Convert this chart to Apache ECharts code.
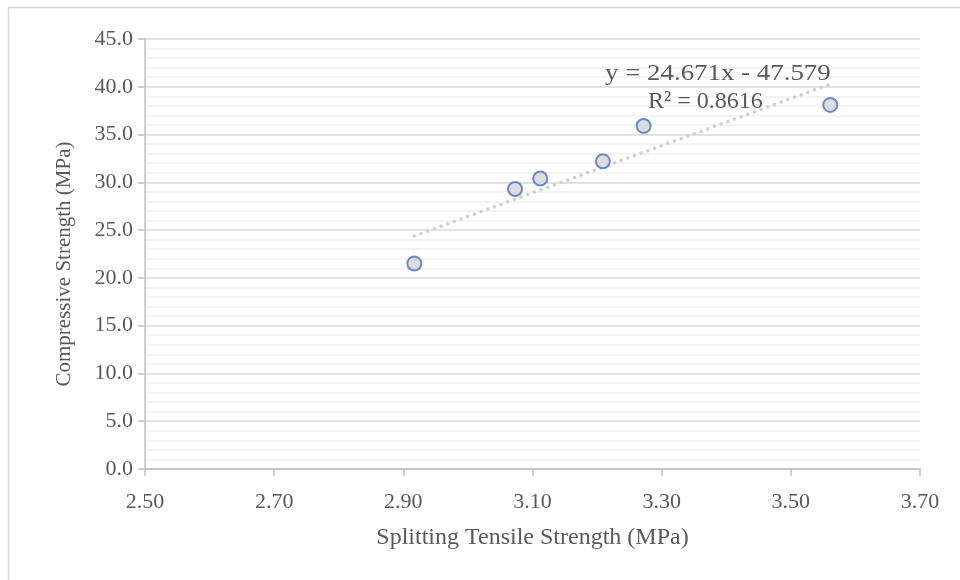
<!DOCTYPE html>
<html><head><meta charset="utf-8">
<script src="https://cdn.jsdelivr.net/npm/echarts@6/dist/echarts.min.js"></script>
<style>html,body{margin:0;padding:0;background:#fff}#c{width:960px;height:580px}</style>
</head><body><div id="c"></div>
<script>
const tensile = [2.917, 3.073, 3.112, 3.209, 3.272, 3.561];
const compressive = [21.5, 29.3, 30.4, 32.2, 35.9, 38.1];
const slope = 24.671, intercept = -47.579, r2 = 0.8616;
const xTitle = 'Splitting Tensile Strength (MPa)';
const yTitle = 'Compressive Strength (MPa)';

const pts = tensile.map((x, i) => [x, compressive[i]]);
const xmin = Math.min(...tensile), xmax = Math.max(...tensile);
const trend = [[xmin, slope * xmin + intercept], [xmax, slope * xmax + intercept]];
const font = 'Liberation Serif';
const chart = echarts.init(document.getElementById('c'));
chart.setOption({
  animation: false,
  textStyle: {fontFamily: font},
  grid: {left: 145, right: 40, top: 39, bottom: 111},
  xAxis: {
    type: 'value', min: 2.5, max: 3.7, interval: 0.2,
    name: xTitle, nameLocation: 'middle', nameGap: 57,
    nameTextStyle: {fontFamily: font, fontSize: 24, color: '#595959'},
    axisLine: {show: true, lineStyle: {color: '#bfbfbf', width: 1.5}},
    axisTick: {show: true, length: 7, lineStyle: {color: '#bfbfbf', width: 1.5}},
    axisLabel: {fontFamily: font, fontSize: 22, color: '#595959', margin: 22, formatter: v => v.toFixed(2)},
    splitLine: {show: false}
  },
  yAxis: {
    type: 'value', min: 0, max: 45, interval: 5,
    name: yTitle, nameLocation: 'middle', nameGap: 70,
    nameTextStyle: {fontFamily: font, fontSize: 21, color: '#595959', padding: [0, 20, 0, 0]},
    axisLine: {show: true, lineStyle: {color: '#bfbfbf', width: 1.5}},
    axisTick: {show: true, length: 7, lineStyle: {color: '#bfbfbf', width: 1.5}},
    axisLabel: {fontFamily: font, fontSize: 22, color: '#595959', margin: 12, formatter: v => v.toFixed(1)},
    splitLine: {show: true, lineStyle: {color: '#d9d9d9', width: 1.5}},
    minorTick: {show: false, splitNumber: 5},
    minorSplitLine: {show: true, lineStyle: {color: '#f0f0f0', width: 1.5}}
  },
  graphic: [
    {type: 'rect', shape: {x: 8.5, y: 7.5, width: 960, height: 600}, style: {fill: 'none', stroke: '#d9d9d9', lineWidth: 1.5}, z: -1},
    {type: 'text', x: 605, y: 74, scaleX: 1.12, z: 10, style: {text: 'y = 24.671x - 47.579', font: '24px "Liberation Serif"', fill: '#595959', verticalAlign: 'middle', align: 'left'}},
    {type: 'text', x: 648, y: 102, z: 10, style: {text: 'R² = ' + r2, font: '24px "Liberation Serif"', fill: '#595959', verticalAlign: 'middle', align: 'left'}}
  ],
  series: [
    {type: 'line', data: trend, showSymbol: false, symbol: 'none', silent: true,
     lineStyle: {color: '#d0d0d0', width: 3.5, type: [0.1, 7], cap: 'round'}, z: 1},
    {type: 'scatter', data: pts, symbol: 'circle', symbolSize: 14,
     itemStyle: {color: '#d4d4d4', borderColor: '#4472c4', borderWidth: 2}, z: 3}
  ]
});
</script></body></html>
